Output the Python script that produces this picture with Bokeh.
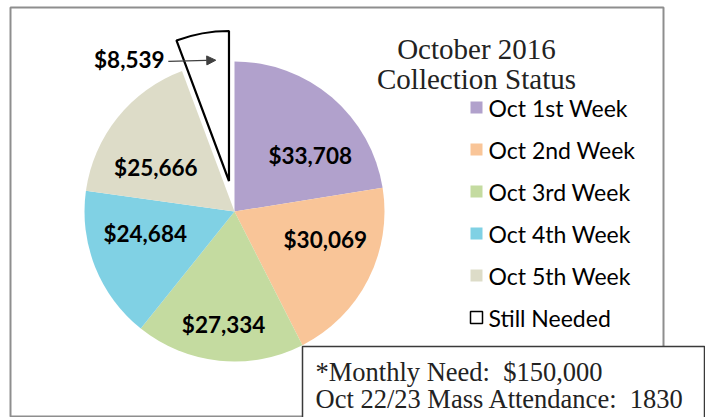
import numpy as np
from bokeh.plotting import figure
from bokeh.models import Arrow, NormalHead, Range1d, ColumnDataSource
from bokeh.core.properties import value
from bokeh.embed import file_html
from bokeh.resources import INLINE

# ---------------- data ----------------
categories = ["Oct 1st Week", "Oct 2nd Week", "Oct 3rd Week",
              "Oct 4th Week", "Oct 5th Week", "Still Needed"]
amounts = [33708, 30069, 27334, 24684, 25666, 8539]
colors = ["#B1A1CC", "#F9C598", "#C4DBA0", "#80D1E4", "#DDDCC8", "#FFFFFF"]
title_lines = ["October 2016", "Collection Status"]
note_lines = ["*Monthly Need:\u00a0\u00a0$150,000", "Oct 22/23 Mass Attendance:\u00a0\u00a01830"]

# ---------------- layout (pixels) ----------------
W, H = 705, 417
def Y(y):
    return H - y

CX, CY, R = 234, Y(211), 150
explode = [0, 0, 0, 0, 0, 31]
label_dist = [94, 95, 114, 92, 90, 185]
label_nudge_deg = [13.2, -9.9, -0.4, 7.8, -9.6, -24.4]

p = figure(width=W, height=H, x_range=Range1d(0, W), y_range=Range1d(0, H),
           output_backend="svg", toolbar_location=None, min_border=0,
           outline_line_color=None, background_fill_color="white")
p.axis.visible = False
p.grid.visible = False

# outer chart frame
p.quad(left=10, right=663, top=Y(7), bottom=Y(416), fill_color=None,
       line_color="#8E8E8E", line_width=2)

# ---------------- pie ----------------
vals = np.array(amounts, dtype=float)
total = vals.sum()
cum = np.cumsum(vals)
start = np.pi / 2 - 2 * np.pi * (cum - vals) / total
end = np.pi / 2 - 2 * np.pi * cum / total
mid = (start + end) / 2
ex = np.array(explode, dtype=float)
wx = CX + ex * np.cos(mid)
wy = CY + ex * np.sin(mid)

src = ColumnDataSource(dict(x=wx, y=wy, s=start, e=end, c=colors,
                            lc=["rgba(0,0,0,0)"] * 5 + ["black"],
                            lw=[0] * 5 + [2.2]))
p.wedge(x="x", y="y", radius=R, start_angle="s", end_angle="e",
        direction="clock", fill_color="c", line_color="lc", line_width="lw",
        source=src)

# data labels (math angle = bisector rotated clockwise by nudge)
ang = mid - np.radians(label_nudge_deg)
lx = CX + np.array(label_dist) * np.cos(ang)
ly = CY + np.array(label_dist) * np.sin(ang)
labels = ["${:,}".format(v) for v in amounts]
p.text(x=lx, y=ly, text=labels, text_font=value("Lato"), text_font_style="bold",
       text_font_size="22.5px", text_align="center", text_baseline="middle",
       text_color="black")

# leader arrow for the exploded slice
sx0 = lx[5] + 39
sy0 = ly[5] - 2
a_end = mid[5] - np.radians(4)
ax1 = wx[5] + 0.81 * R * np.cos(a_end)
ay1 = wy[5] + 0.81 * R * np.sin(a_end)
p.add_layout(Arrow(x_start=sx0, y_start=sy0, x_end=ax1, y_end=ay1,
                   line_color="#404040", line_width=1.2,
                   end=NormalHead(size=9, fill_color="#404040",
                                  line_color="#404040")))

# ---------------- title ----------------
p.text(x=[476, 476], y=[Y(48), Y(78)], text=title_lines,
       text_font=value("Liberation Serif"), text_font_size="29px",
       text_align="center", text_baseline="alphabetic", text_color="#222222")

# ---------------- legend ----------------
leg_y = [Y(107 + 42 * i) for i in range(len(categories))]
p.rect(x=[476] * 6, y=leg_y, width=12, height=12, fill_color=colors,
       line_color=["rgba(0,0,0,0)"] * 5 + ["black"], line_width=1.5)
p.text(x=[488] * 6, y=leg_y, text=categories, text_font=value("Lato"),
       text_font_size="23px", text_align="left", text_baseline="middle",
       text_color="black")

# ---------------- note box ----------------
p.quad(left=302, right=704, top=Y(346), bottom=Y(425), fill_color="white",
       line_color="#3A3A3A", line_width=1.5)
p.text(x=[315, 315], y=[Y(371), Y(398)], text=note_lines,
       text_font=value("Liberation Serif"), text_font_size="26.5px",
       text_align="left", text_baseline="middle", text_color="#222222")

open("out.html", "w").write(file_html(p, INLINE))
